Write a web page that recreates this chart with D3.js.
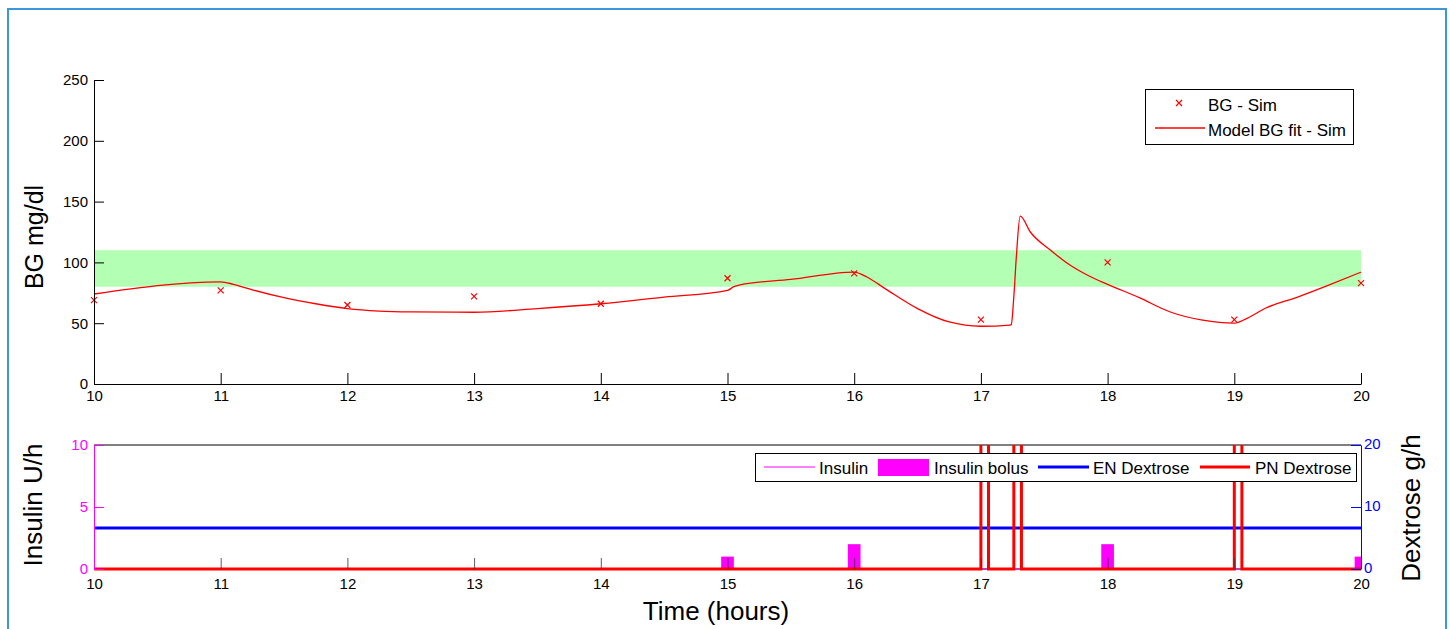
<!DOCTYPE html>
<html>
<head>
<meta charset="utf-8">
<script src="https://cdn.jsdelivr.net/npm/d3@7"></script>
<style>
  body { margin: 0; background: #fff; }
  text { font-family: "Liberation Sans", Arial, sans-serif; }
</style>
</head>
<body>
<div id="chart"></div>
<script>
// hours on the time axis
var hours = [10, 11, 12, 13, 14, 15, 16, 17, 18, 19, 20];

// measured BG (x markers)
var bgTime = [10, 11, 12, 13, 14, 15, 16, 17, 18, 19, 20];
var bgSim = [69, 77, 65, 72, 66, 87, 91, 53, 100, 53, 83];

// model BG fit (red line)
var fitTime = [10, 11, 11.1, 11.25, 11.5, 11.75, 12, 12.25, 12.5, 13, 13.5, 14, 14.5, 15, 15.05, 15.1, 15.5, 16,
  16.1, 16.25, 16.5, 16.75, 17, 17.23, 17.24, 17.26, 17.28, 17.31, 17.39, 17.55, 17.7, 17.85, 18,
  18.25, 18.5, 18.75, 19, 19.1, 19.25, 19.5, 19.75, 20];
var fitBG = [74, 84, 82, 77.5, 71, 66, 62, 60, 59.3, 59, 62, 66, 71.5, 77, 80, 81.5, 86, 92,
  88, 78, 62, 51, 47.5, 48.5, 49, 72, 105, 138, 125, 110, 98, 89, 82,
  71, 59, 52.5, 50, 54, 62.5, 71.5, 81.5, 92];

var targetBand = [80, 110];
var bgTicks = [0, 50, 100, 150, 200, 250];
var insulinTicks = [0, 5, 10];
var dextroseTicks = [0, 10, 20];

// lower panel series
var insulinTime = [10, 20];
var insulinRate = [0, 0];
var bolusTime = [15, 16, 18, 20];
var bolusRate = [1, 2, 2, 1];
var enTime = [10, 20];
var enRate = [6.6, 6.6];
var pnTime = [10, 17, 17.06, 17.26, 17.32, 19, 19.06, 20];
var pnRate = [0, 60, 0, 60, 0, 60, 0, 0];

var W = 1450, H = 629;
var left = 94, right = 1361;
var bolusWidth = 0.1;

var svg = d3.select("#chart").append("svg")
  .attr("width", W)
  .attr("height", H);

// outer frame
svg.append("path")
  .attr("d", "M8," + H + "V9H1446V" + H)
  .attr("fill", "none")
  .attr("stroke", "#3a97dc")
  .attr("stroke-width", 2);

var x = d3.scaleLinear().domain([10, 20]).range([left, right]);
var yBG = d3.scaleLinear().domain([0, 250]).range([384, 80]);
var yIns = d3.scaleLinear().domain([0, 10]).range([569, 445]);
var yDex = d3.scaleLinear().domain([0, 20]).range([569, 445]);

function styleAxis(g, color, size) {
  g.attr("font-family", null).attr("font-size", null);
  g.select(".domain").attr("stroke", color);
  g.selectAll(".tick line").attr("stroke", color);
  g.selectAll(".tick text").attr("fill", color).style("font-size", size + "px");
}

// ---------- top panel ----------
var topPanel = svg.append("g");

topPanel.append("rect")
  .attr("x", x(10))
  .attr("y", yBG(targetBand[1]))
  .attr("width", x(20) - x(10))
  .attr("height", yBG(targetBand[0]) - yBG(targetBand[1]))
  .attr("fill", "#b3ffb3");

var fitLine = d3.line()
  .x(function(d, i){ return x(fitTime[i]); })
  .y(function(d){ return yBG(d); })
  .curve(d3.curveMonotoneX);

topPanel.append("path")
  .attr("d", fitLine(fitBG))
  .attr("fill", "none")
  .attr("stroke", "#ff0000")
  .attr("stroke-width", 1.3);

var cross = "M-3,-3L3,3M-3,3L3,-3";
topPanel.selectAll(".bg")
  .data(bgSim)
  .enter().append("path")
  .attr("transform", function(d, i){ return "translate(" + x(bgTime[i]) + "," + yBG(d) + ")"; })
  .attr("d", cross)
  .attr("stroke", "#ff0000")
  .attr("stroke-width", 1.2);

var topY = topPanel.append("g")
  .attr("transform", "translate(" + left + ",0)")
  .call(d3.axisLeft(yBG).tickValues(bgTicks).tickSizeInner(-10).tickSizeOuter(0).tickPadding(6));
styleAxis(topY, "#000", 15);

var topX = topPanel.append("g")
  .attr("transform", "translate(0,384)")
  .call(d3.axisBottom(x).tickValues(hours).tickFormat(d3.format("d")).tickSizeInner(-11).tickSizeOuter(0).tickPadding(6));
styleAxis(topX, "#000", 15);

svg.append("text")
  .attr("transform", "translate(34,237) rotate(-90)")
  .attr("text-anchor", "middle")
  .attr("dy", "0.35em")
  .style("font-size", "25px")
  .text("BG mg/dl");

// top legend
var lg1 = svg.append("g");
lg1.append("rect")
  .attr("x", 1145.5).attr("y", 89.5)
  .attr("width", 208).attr("height", 55)
  .attr("fill", "#fff")
  .attr("stroke", "#000");
lg1.append("path")
  .attr("transform", "translate(1179,103)")
  .attr("d", cross)
  .attr("stroke", "#ff0000")
  .attr("stroke-width", 1.2);
lg1.append("text").attr("x", 1208).attr("y", 111).style("font-size", "17px").text("BG - Sim");
lg1.append("line")
  .attr("x1", 1155).attr("x2", 1205)
  .attr("y1", 128).attr("y2", 128)
  .attr("stroke", "#ff0000")
  .attr("stroke-width", 1.5);
lg1.append("text").attr("x", 1208).attr("y", 136).style("font-size", "17px").text("Model BG fit - Sim");

// ---------- bottom panel ----------
var bot = svg.append("g");

svg.append("defs").append("clipPath").attr("id", "clipBot")
  .append("rect")
  .attr("x", left).attr("y", 445)
  .attr("width", right - left).attr("height", 126);

// box top and baseline
bot.append("line")
  .attr("x1", left).attr("x2", right)
  .attr("y1", 445).attr("y2", 445)
  .attr("stroke", "#000");
bot.append("line")
  .attr("x1", left).attr("x2", right)
  .attr("y1", 569).attr("y2", 569)
  .attr("stroke", "#000");

var data = bot.append("g").attr("clip-path", "url(#clipBot)");

data.selectAll(".bolus")
  .data(bolusRate)
  .enter().append("rect")
  .attr("x", function(d, i){ return x(bolusTime[i] - bolusWidth / 2); })
  .attr("y", function(d){ return yIns(d); })
  .attr("width", function(d, i){ return x(bolusTime[i] + bolusWidth / 2) - x(bolusTime[i] - bolusWidth / 2); })
  .attr("height", function(d){ return yIns(0) - yIns(d); })
  .attr("fill", "#ff00ff");

var insLine = d3.line()
  .x(function(d, i){ return x(insulinTime[i]); })
  .y(function(d){ return yIns(d); });
data.append("path")
  .attr("d", insLine(insulinRate))
  .attr("fill", "none")
  .attr("stroke", "#ff00ff")
  .attr("stroke-width", 1);

var enLine = d3.line()
  .x(function(d, i){ return x(enTime[i]); })
  .y(function(d){ return yDex(d); });
data.append("path")
  .attr("d", enLine(enRate))
  .attr("fill", "none")
  .attr("stroke", "#0000ff")
  .attr("stroke-width", 3);

var pnLine = d3.line()
  .x(function(d, i){ return x(pnTime[i]); })
  .y(function(d){ return yDex(d); })
  .curve(d3.curveStepAfter);
data.append("path")
  .attr("d", pnLine(pnRate))
  .attr("fill", "none")
  .attr("stroke", "#ff0000")
  .attr("stroke-width", 3);

var botX = bot.append("g")
  .attr("transform", "translate(0,569)")
  .call(d3.axisBottom(x).tickValues(hours).tickFormat(d3.format("d")).tickSizeInner(-11).tickSizeOuter(0).tickPadding(9));
styleAxis(botX, "#000", 15);
botX.select(".domain").remove();
botX.selectAll(".tick line").attr("stroke", "#333").attr("stroke-width", 0.8);

var botL = bot.append("g")
  .attr("transform", "translate(" + left + ",0)")
  .call(d3.axisLeft(yIns).tickValues(insulinTicks).tickSizeInner(-10).tickSizeOuter(0).tickPadding(6));
styleAxis(botL, "#ff00ff", 15);

var botR = bot.append("g")
  .attr("transform", "translate(" + right + ",0)")
  .call(d3.axisRight(yDex).tickValues(dextroseTicks).tickSizeInner(-10).tickSizeOuter(0).tickPadding(3));
styleAxis(botR, "#0000ff", 15);
botR.selectAll(".tick text").attr("dy", "0.2em");

svg.append("text")
  .attr("transform", "translate(33,505) rotate(-90)")
  .attr("text-anchor", "middle")
  .attr("dy", "0.35em")
  .style("font-size", "26px")
  .text("Insulin U/h");

svg.append("text")
  .attr("transform", "translate(1411,508) rotate(-90)")
  .attr("text-anchor", "middle")
  .attr("dy", "0.35em")
  .style("font-size", "26px")
  .text("Dextrose g/h");

svg.append("text")
  .attr("x", 716).attr("y", 620)
  .attr("text-anchor", "middle")
  .style("font-size", "26px")
  .text("Time (hours)");

// bottom legend
var lg2 = svg.append("g");
lg2.append("rect")
  .attr("x", 755.5).attr("y", 453.5)
  .attr("width", 601).attr("height", 28)
  .attr("fill", "#fff")
  .attr("stroke", "#000");
lg2.append("line").attr("x1", 764).attr("x2", 815).attr("y1", 467).attr("y2", 467)
  .attr("stroke", "#ff00ff").attr("stroke-width", 1);
lg2.append("text").attr("x", 819).attr("y", 474).style("font-size", "17px").text("Insulin");
lg2.append("rect").attr("x", 878).attr("y", 459).attr("width", 51).attr("height", 17)
  .attr("fill", "#ff00ff");
lg2.append("text").attr("x", 934).attr("y", 474).style("font-size", "17px").text("Insulin bolus");
lg2.append("line").attr("x1", 1038).attr("x2", 1089).attr("y1", 467).attr("y2", 467)
  .attr("stroke", "#0000ff").attr("stroke-width", 3);
lg2.append("text").attr("x", 1093).attr("y", 474).style("font-size", "17px").text("EN Dextrose");
lg2.append("line").attr("x1", 1200).attr("x2", 1250).attr("y1", 467).attr("y2", 467)
  .attr("stroke", "#ff0000").attr("stroke-width", 3);
lg2.append("text").attr("x", 1255).attr("y", 474).style("font-size", "17px").text("PN Dextrose");
</script>
</body>
</html>
